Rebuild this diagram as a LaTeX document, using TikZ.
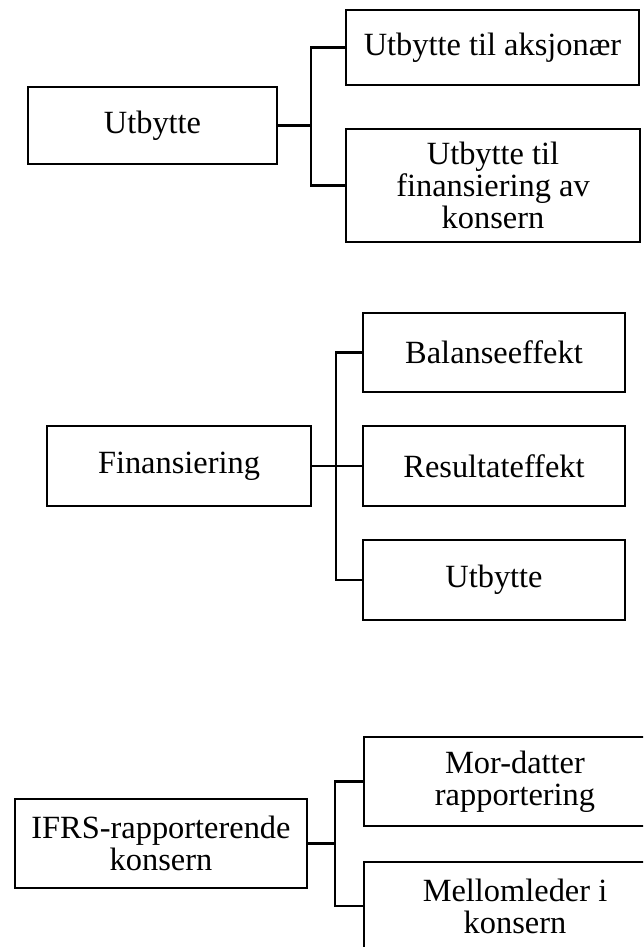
\documentclass[tikz,border=0pt]{standalone}
\usepackage{fontspec}
\setmainfont{Liberation Serif}

\tikzset{
  box/.style={draw, line width=1.2pt, align=center, inner sep=2pt,
    font=\fontsize{16.2}{16}\selectfont},
  link/.style={line width=1.2pt},
}

\begin{document}
\begin{tikzpicture}[x=0.5pt, y=-0.5pt]

  % page frame
  \useasboundingbox (0,0) rectangle (643,947);
  \clip (0,0) rectangle (643,947);

  % Utbytte
  \node[box, minimum width=124.5pt, minimum height=38.5pt] (utb) at (152.5,125.5) {Utbytte};
  \node[box, minimum width=146.5pt, minimum height=37.5pt] (aksj) at (492.5,47.5) {Utbytte til aksjonær};
  \node[box, minimum width=147pt, minimum height=56.5pt] (utbfin) at (493,185.5) {Utbytte til\\finansiering av\\konsern};
  \coordinate (utbsplit) at (311,125.5);
  \draw[link] (utb.east) -- (utbsplit);
  \draw[link] (aksj.west) -| (utbsplit) |- (utbfin.west);

  % Finansiering
  \node[box, minimum width=132pt, minimum height=40pt] (fin) at (179,466) {Finansiering};
  \node[box, minimum width=131pt, minimum height=39.5pt] (bal) at (494,352.5) {Balanseeffekt};
  \node[box, minimum width=131pt, minimum height=40pt] (res) at (494,466) {Resultateffekt};
  \node[box, minimum width=131pt, minimum height=40pt] (finutb) at (494,580) {Utbytte};
  \coordinate (finsplit) at (336,466);
  \draw[link] (fin.east) -- (finsplit);
  \draw[link] (bal.west) -| (finsplit) |- (finutb.west);
  \draw[link] (finsplit) -- (res.west);

  % IFRS-rapporterende konsern
  \node[box, minimum width=146pt, minimum height=44.5pt] (ifrs) at (161,843.5) {IFRS-rapporterende\\konsern};
  \node[box, minimum width=151pt, minimum height=44.5pt] (mor) at (515,781.5) {Mor-datter\\rapportering};
  \node[box, minimum width=151pt, minimum height=44pt] (mell) at (515,906) {Mellomleder i\\konsern};
  \coordinate (ifrssplit) at (335,843.5);
  \draw[link] (ifrs.east) -- (ifrssplit);
  \draw[link] (mor.west) -| (ifrssplit) |- (mell.west);

\end{tikzpicture}
\end{document}
